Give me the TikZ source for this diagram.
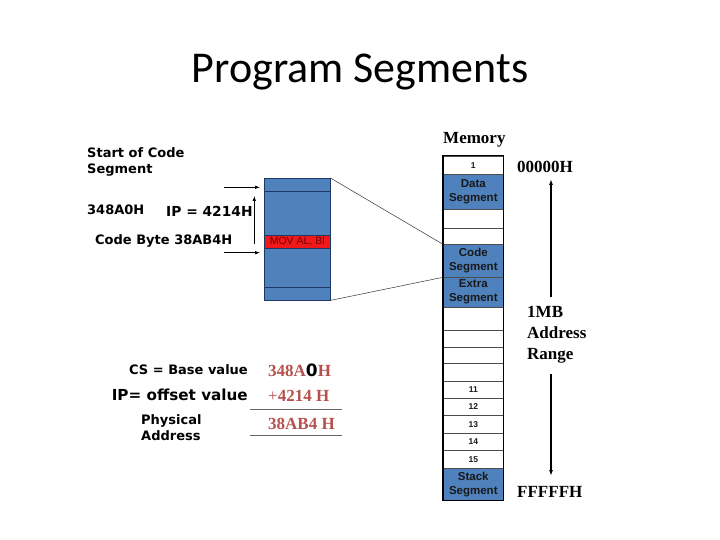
\documentclass[tikz,border=0pt]{standalone}
\usepackage{fontspec}
\setmainfont{Liberation Serif}
\newfontfamily\verd{DejaVu Sans}
\newfontfamily\arial{Liberation Sans}
\newfontfamily\calib{Carlito}
\usetikzlibrary{arrows.meta}
\definecolor{segblu}{HTML}{4F81BD}
\definecolor{bordo}{HTML}{1F3864}
\definecolor{rosso}{HTML}{F01818}
\definecolor{mattone}{HTML}{B5504D}
\newcommand{\piccolo}[1]{{\fontsize{8.5}{10}\selectfont #1}}

\begin{document}
\begin{tikzpicture}[x=1pt,y=-1pt,
    etich/.style={inner sep=0pt, font=\verd\bfseries\fontsize{13}{16}\selectfont},
    serif/.style={inner sep=0pt, font=\bfseries\fontsize{17}{21}\selectfont},
    cella/.style={draw=black!70, line width=0.6pt, inner sep=0pt, minimum width=60pt,
        anchor=north west, align=center, text=black!90,
        font=\arial\bfseries\fontsize{11.5}{14}\selectfont},
    freccia/.style={-{Latex[length=5pt,width=3.5pt]}, line width=0.6pt},
    grossa/.style={-{Latex[length=6pt,width=4pt]}, line width=1.8pt}]
    \useasboundingbox (0,0) rectangle (720,540);
    % Titolo
    \node[inner sep=0pt, anchor=base, font=\calib\fontsize{44}{50}\selectfont] (titolo)
        at (360,83) {Program Segments};
    % Colonna della memoria
    \node[serif, anchor=west] (memoria) at (443,140) {Memory};
    \foreach \n/\t/\h/\f/\txt in {1/155.7/18.6/white/\piccolo{1},
            2/174.3/34.7/segblu/{Data\\Segment},
            3/209/18.7/white/{}, 4/227.7/16.6/white/{},
            5/244.3/32.4/segblu/{Code\\Segment},
            6/276.7/30/segblu/{Extra\\Segment},
            7/306.7/23.3/white/{}, 8/330/16.7/white/{},
            9/346.7/16.6/white/{}, 10/363.3/17.7/white/{},
            11/381/17.3/white/\piccolo{11}, 12/398.3/16.7/white/\piccolo{12},
            13/415/17.7/white/\piccolo{13}, 14/432.7/17.3/white/\piccolo{14},
            15/450/18.3/white/\piccolo{15},
            16/468.3/31.7/segblu/{Stack\\Segment}} {
            \node[cella, fill=\f, minimum height=\h pt] (m\n) at (443,\t) {\txt};
        }
    \draw[line width=1.2pt] (m1.north west) rectangle (m16.south east);
    % Intervallo di indirizzi
    \node[serif, anchor=west] (inizio) at (517,167) {00000H};
    \node[serif, anchor=west, align=left] (gamma) at (527,335) {1MB\\Address\\Range};
    \node[serif, anchor=west] (fine) at (517,492) {FFFFFH};
    \coordinate (su0) at (551,297);
    \coordinate (su1) at (551,179);
    \coordinate (giu0) at (551,374);
    \coordinate (giu1) at (551,476);
    \draw[grossa] (su0) -- (su1);
    \draw[grossa] (giu0) -- (giu1);
    % Segmento di codice ingrandito
    \node[draw=bordo, fill=segblu, minimum width=66pt, minimum height=122pt,
        inner sep=0pt, anchor=north west] (codice) at (264,178) {};
    \draw[bordo, line width=0.8pt] ([yshift=-13pt]codice.north west) -- ([yshift=-13pt]codice.north east);
    \draw[bordo, line width=0.8pt] ([yshift=13pt]codice.south west) -- ([yshift=13pt]codice.south east);
    \node[draw=bordo, fill=rosso, minimum width=66pt, minimum height=13.3pt, inner sep=0pt,
        anchor=north west, text=red!45!black, font=\arial\fontsize{10.5}{11}\selectfont]
        (istr) at (264,235) {MOV AL, Bl};
    \draw[black!80, line width=0.5pt] (codice.north east) -- (m5.north west);
    \draw[black!80, line width=0.5pt] (codice.south east) -- (m5.south west);
    % Etichette a sinistra
    \node[etich, anchor=west, align=left] (start) at (87,162) {Start of Code\\Segment};
    \node[etich, anchor=west] (base) at (87,210) {348A0H};
    \node[etich, anchor=west, font=\verd\bfseries\fontsize{13.8}{16}\selectfont] (ip)
        at (166,211) {IP = 4214H};
    \node[etich, anchor=west] (byte) at (95,241) {Code Byte 38AB4H};
    \coordinate (a0) at (224,187.3);
    \coordinate (a1) at (260,187.3);
    \coordinate (b0) at (224,252.7);
    \coordinate (b1) at (260,252.7);
    \coordinate (c0) at (254.3,196);
    \coordinate (c1) at (254.3,244);
    \draw[freccia] (a0) -- (a1);
    \draw[freccia] (b0) -- (b1);
    \draw[freccia, {Latex[length=5pt,width=3.5pt]}-] (c0) -- (c1);
    % Calcolo dell'indirizzo fisico
    \node[etich, anchor=east] (cs) at (248,370) {CS = Base value};
    \node[etich, anchor=east, font=\verd\bfseries\fontsize{15.2}{18}\selectfont] (off)
        at (248,395) {IP= offset value};
    \node[etich, anchor=west, align=left] (fis) at (141,428) {Physical\\Address};
    \node[serif, anchor=west, text=mattone] (v1) at (268,370)
        {348A{\color{black}\verd 0}H};
    \node[serif, anchor=west, text=mattone] (v2) at (268,396) {\mdseries+\bfseries4214 H};
    \node[serif, anchor=west, text=mattone] (v3) at (268,424) {38AB4 H};
    \draw[black!60, line width=0.6pt] (250,409) -- (342,409);
    \draw[black!60, line width=0.6pt] (250,435) -- (342,435);
\end{tikzpicture}
\end{document}
